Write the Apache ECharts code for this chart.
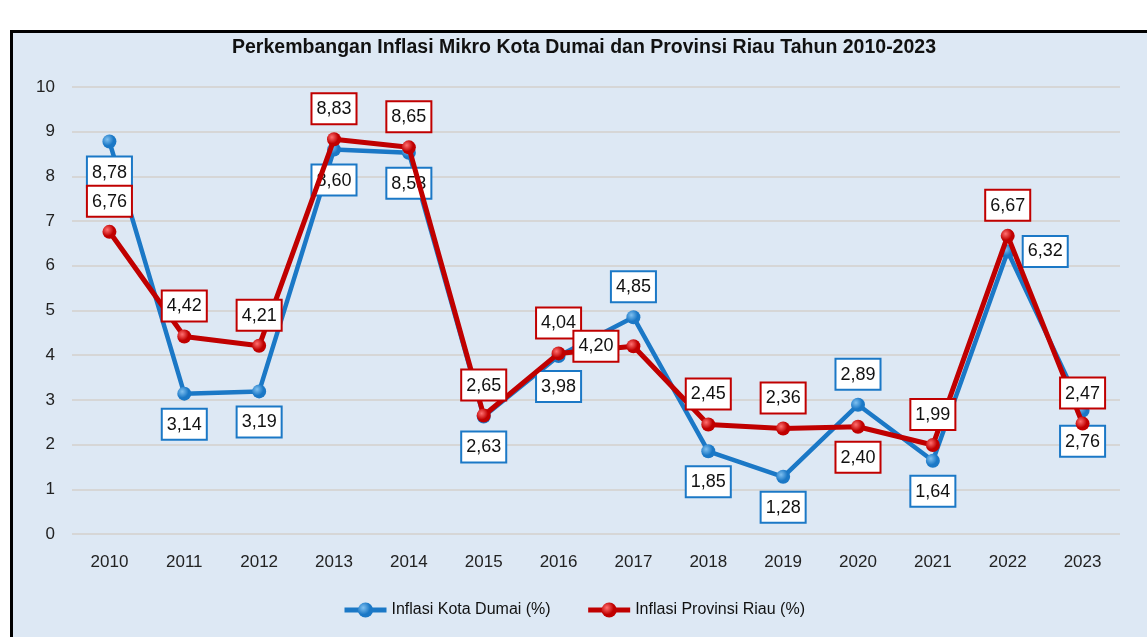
<!DOCTYPE html>
<html>
<head>
<meta charset="utf-8">
<script src="https://cdn.jsdelivr.net/npm/echarts@6/dist/echarts.min.js"></script>
<style>
  html, body { margin: 0; padding: 0; background: #fff; }
  #chart { width: 1147px; height: 637px; }
</style>
</head>
<body>
<div id="chart"></div>
<script>
var years = ['2010','2011','2012','2013','2014','2015','2016','2017','2018','2019','2020','2021','2022','2023'];
var dumai = [8.78, 3.14, 3.19, 8.60, 8.53, 2.63, 3.98, 4.85, 1.85, 1.28, 2.89, 1.64, 6.32, 2.76];
var riau  = [6.76, 4.42, 4.21, 8.83, 8.65, 2.65, 4.04, 4.20, 2.45, 2.36, 2.40, 1.99, 6.67, 2.47];
// where each value label sits around its point
var dumaiPos = ['bottom','bottom','bottom','bottom','bottom','bottom','bottom','top','bottom','bottom','top','bottom','right','bottom'];
var riauPos  = ['top','top','top','top','top','top','top','left','top','top','bottom','top','top','top'];

var FONT = "'Liberation Sans', Arial, sans-serif";
var BLUE = '#1b78c6';
var RED = '#c00000';

function ball(c, light) {
    return {
        type: 'radial', x: 0.35, y: 0.35, r: 0.75,
        colorStops: [{ offset: 0, color: light }, { offset: 0.6, color: c }, { offset: 1, color: c }]
    };
}

function fmt(p) {
    return p.value.toFixed(2).replace('.', ',');
}

function makeData(vals, pos, col) {
    return vals.map(function (v, i) {
        return {
            value: v,
            label: {
                show: true,
                position: pos[i],
                distance: 9,
                formatter: fmt,
                color: '#111',
                fontFamily: FONT,
                fontSize: 18,
                backgroundColor: '#fff',
                borderColor: col,
                borderWidth: 2,
                padding: [6, 4, 5, 4]
            }
        };
    });
}

var chart = echarts.init(document.getElementById('chart'));
chart.setOption({
    backgroundColor: '#fff',
    animation: false,
    graphic: [{
        type: 'rect',
        shape: { x: 11.5, y: 31.5, width: 1150, height: 620 },
        style: { fill: '#dde8f4', stroke: '#000', lineWidth: 3 },
        z: -10
    }],
    title: {
        text: 'Perkembangan Inflasi Mikro Kota Dumai dan Provinsi Riau Tahun 2010-2023',
        left: 579,
        textAlign: 'center',
        top: 33,
        textStyle: { fontFamily: FONT, fontSize: 19.5, fontWeight: 'bold', color: '#111' }
    },
    grid: { left: 72, right: 27, top: 87, bottom: 103 },
    xAxis: {
        type: 'category',
        data: years,
        boundaryGap: true,
        axisLine: { show: false },
        axisTick: { show: false },
        axisLabel: { fontFamily: FONT, fontSize: 17, color: '#222', margin: 20 }
    },
    yAxis: {
        type: 'value',
        min: 0,
        max: 10,
        interval: 1,
        axisLine: { show: false },
        axisTick: { show: false },
        axisLabel: { fontFamily: FONT, fontSize: 17, color: '#222', margin: 17 },
        splitLine: { lineStyle: { color: '#d6d6d6', width: 2 } }
    },
    legend: {
        bottom: 14,
        left: 'center',
        itemGap: 35,
        itemWidth: 42,
        itemHeight: 19,
        lineStyle: { width: 5 },
        textStyle: { fontFamily: FONT, fontSize: 16, color: '#111' },
        data: ['Inflasi Kota Dumai (%)', 'Inflasi Provinsi Riau (%)']
    },
    series: [{
        name: 'Inflasi Kota Dumai (%)',
        type: 'line',
        data: makeData(dumai, dumaiPos, BLUE),
        symbol: 'circle',
        symbolSize: 14,
        lineStyle: { color: BLUE, width: 4.5 },
        itemStyle: { color: ball(BLUE, '#7fc0f0'), borderWidth: 0 },
        z: 2
    }, {
        name: 'Inflasi Provinsi Riau (%)',
        type: 'line',
        data: makeData(riau, riauPos, RED),
        symbol: 'circle',
        symbolSize: 14,
        lineStyle: { color: RED, width: 5 },
        itemStyle: { color: ball(RED, '#ff7070'), borderWidth: 0 },
        z: 3
    }]
});
</script>
</body>
</html>
